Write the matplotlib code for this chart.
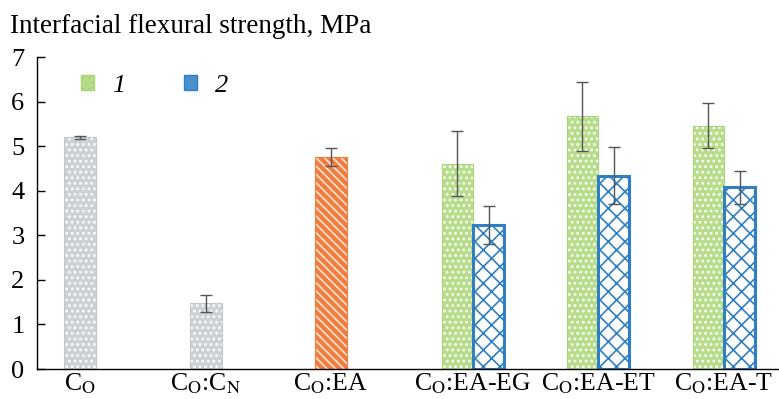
import matplotlib.pyplot as plt
from matplotlib import patches
import numpy as np

plt.rcParams['font.family'] = ['Liberation Serif', 'DejaVu Serif']
plt.rcParams['mathtext.fontset'] = 'stix'
plt.rcParams['hatch.linewidth'] = 1.2

# data
labels = [r'C$_\mathrm{O}$', r'C$_\mathrm{O}$:C$_\mathrm{N}$', r'C$_\mathrm{O}$:EA',
          r'C$_\mathrm{O}$:EA-EG', r'C$_\mathrm{O}$:EA-ET', r'C$_\mathrm{O}$:EA-T']
single_vals = [5.20, 1.47, 4.76]
single_errs = [0.03, 0.20, 0.20]
s1_vals = [4.61, 5.67, 5.46]
s1_errs = [0.72, 0.78, 0.50]
s2_vals = [3.23, 4.34, 4.08]
s2_errs = [0.43, 0.64, 0.37]
pos = np.array([0, 1.008, 2.008, 3.144, 4.144, 5.152])

w = 0.25
fig = plt.figure(figsize=(7.79, 3.99), dpi=100)
ax = fig.add_axes([37 / 779, 30 / 399, 742 / 779, 312 / 399])

ecol = '#555555'
ekw = dict(ecolor=ecol, elinewidth=1.0, capsize=4, capthick=1.0)

# single bars (gray, gray, orange)
ax.bar(pos[:2], single_vals[:2], w, color='#cdd1d5', edgecolor='white',
       hatch='...', linewidth=0)
ax.bar(pos[:2], single_vals[:2], w, fill=False, edgecolor='#c3c7cb', linewidth=0.8)
ax.bar(pos[2], single_vals[2], w, color='#f07d40', edgecolor='#fde3cf',
       hatch='\\\\\\\\', linewidth=0)
ax.bar(pos[2], single_vals[2], w, fill=False, edgecolor='#f07d40', linewidth=0.8)
ax.errorbar(pos[:3], single_vals, yerr=single_errs, fmt='none', **ekw)

# paired bars
gx = pos[3:] - w / 2
bx = pos[3:] + w / 2
ax.bar(gx, s1_vals, w, color='#b7dd8b', edgecolor='white', hatch='...', linewidth=0)
ax.bar(gx, s1_vals, w, fill=False, edgecolor='#a8d47a', linewidth=0.8)
ax.bar(bx, s2_vals, w, color='white', edgecolor='#2e7fc4', hatch='xx', linewidth=2.2)
ax.errorbar(gx, s1_vals, yerr=s1_errs, fmt='none', **ekw)
ax.errorbar(bx, s2_vals, yerr=s2_errs, fmt='none', **ekw)

ax.set_xlim(-0.344, 5.592)
ax.set_ylim(0, 7)
ax.set_yticks(range(8))
ax.set_xticks(pos)
ax.set_xticklabels(labels, fontsize=18.5)
ax.tick_params(axis='x', length=0, pad=2)
ax.tick_params(axis='y', direction='in', length=6, width=1, labelsize=19, pad=9)
for s in ['top', 'right']:
    ax.spines[s].set_visible(False)
ax.spines['left'].set_linewidth(1.0)
ax.spines['bottom'].set_linewidth(1.0)

# legend
h1 = patches.Patch(facecolor='#b7dd8b', edgecolor='#a8d47a', hatch='...')
h2 = patches.Patch(facecolor='#4a90cc', edgecolor='#2e7fc4')
leg = ax.legend([h1, h2], ['1', '2'], ncol=2, frameon=False,
                loc='upper left', bbox_to_anchor=(0.027, 1.02),
                handlelength=0.5, handleheight=0.5, columnspacing=2.2,
                handletextpad=0.7, prop={'size': 19, 'style': 'italic'})

fig.text(10 / 779, 1 - 33 / 399, 'Interfacial flexural strength, MPa', fontsize=19.5)

plt.savefig('out.png', dpi=100)
